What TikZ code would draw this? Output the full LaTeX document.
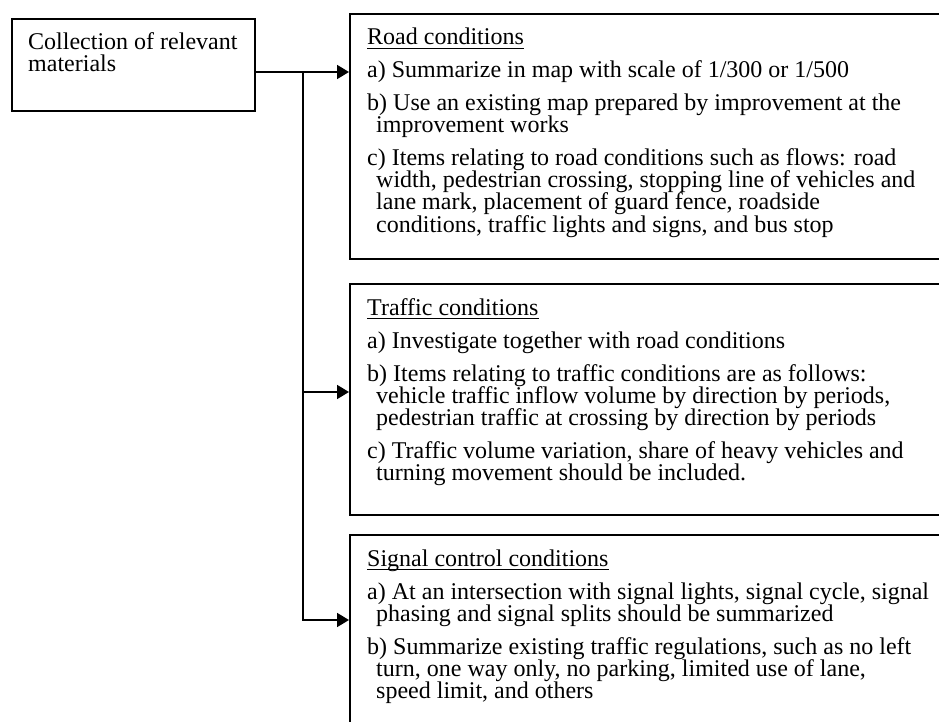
\documentclass[tikz,border=0pt]{standalone}
\usepackage{fontspec}
\setmainfont{Liberation Serif}
\usetikzlibrary{arrows.meta}

\tikzset{
  frame/.style={draw, line width=1.8pt, inner sep=0pt, anchor=north west},
  txt/.style={anchor=base west, inner sep=0pt, font=\fontsize{24}{22}\selectfont},
  link/.style={line width=1.8pt},
  tolink/.style={link, -{Triangle[length=12pt,width=14pt]}},
  uline/.style={line width=1.4pt},
}

\begin{document}
\begin{tikzpicture}[x=1pt, y=-1pt]
\useasboundingbox (0,0) rectangle (939,722);
\clip (0,0) rectangle (939,722);

% source box
\node[frame, minimum width=243pt, minimum height=92pt] (src) at (11,18) {};
\node[txt] (src-1) at (28,50) {Collection of relevant};
\node[txt] (src-2) at (28,72) {materials};

% three target boxes (they run past the right and bottom edges)
\node[frame, minimum width=620pt, minimum height=245pt] (road) at (349,13) {};
\node[frame, minimum width=620pt, minimum height=231pt] (traffic) at (349,283) {};
\node[frame, minimum width=620pt, minimum height=220pt] (signal) at (349,534) {};

% Road conditions
\node[txt] (road-t) at (367,45) {Road conditions};
\draw[uline] ([yshift=-3.5pt]road-t.base west) -- ([yshift=-3.5pt]road-t.base east);
\node[txt] (road-a) at (367,78) {a) Summarize in map with scale of 1/300 or 1/500};
\node[txt] (road-b1) at (367,111) {b) Use an existing map prepared by improvement at the};
\node[txt] (road-b2) at (376,133) {improvement works};
\node[txt] (road-c1) at (367,166) {c) Items relating to road conditions such as flows: road};
\node[txt] (road-c2) at (376,188) {width, pedestrian crossing, stopping line of vehicles and};
\node[txt] (road-c3) at (376,210) {lane mark, placement of guard fence, roadside};
\node[txt] (road-c4) at (376,232) {conditions, traffic lights and signs, and bus stop};

% Traffic conditions
\node[txt] (traf-t) at (367,315) {Traffic conditions};
\draw[uline] ([yshift=-3.5pt]traf-t.base west) -- ([yshift=-3.5pt]traf-t.base east);
\node[txt] (traf-a) at (367,348) {a) Investigate together with road conditions};
\node[txt] (traf-b1) at (367,381) {b) Items relating to traffic conditions are as follows:};
\node[txt] (traf-b2) at (376,403) {vehicle traffic inflow volume by direction by periods,};
\node[txt] (traf-b3) at (376,425) {pedestrian traffic at crossing by direction by periods};
\node[txt] (traf-c1) at (367,458) {c) Traffic volume variation, share of heavy vehicles and};
\node[txt] (traf-c2) at (376,480) {turning movement should be included.};

% Signal control conditions
\node[txt] (sig-t) at (367,566) {Signal control conditions};
\draw[uline] ([yshift=-3.5pt]sig-t.base west) -- ([yshift=-3.5pt]sig-t.base east);
\node[txt] (sig-a1) at (367,599) {a) At an intersection with signal lights, signal cycle, signal};
\node[txt] (sig-a2) at (376,621) {phasing and signal splits should be summarized};
\node[txt] (sig-b1) at (367,654) {b) Summarize existing traffic regulations, such as no left};
\node[txt] (sig-b2) at (376,676) {turn, one way only, no parking, limited use of lane,};
\node[txt] (sig-b3) at (376,698) {speed limit, and others};

% connectors
\coordinate (j1) at (303,72);
\coordinate (j2) at (303,392);
\coordinate (j3) at (303,620);
\draw[tolink] (src.east |- j1) -- (road.west |- j1);
\draw[link] (j1) -- (j3);
\draw[tolink] (j2) -- (traffic.west |- j2);
\draw[tolink] ([xshift=-0.9pt]j3) -- (signal.west |- j3);
\end{tikzpicture}
\end{document}
